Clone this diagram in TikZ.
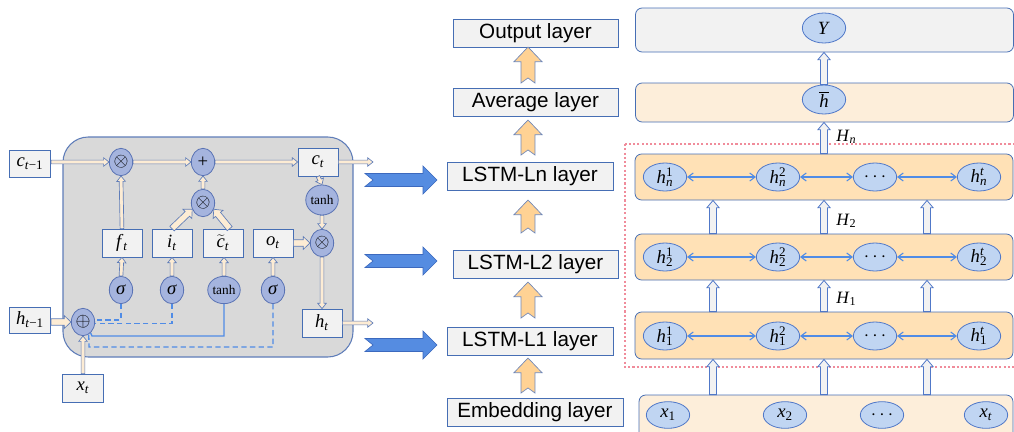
\documentclass[tikz,border=0pt]{standalone}
\usepackage{fontspec}
\setmainfont{Liberation Serif}
\newfontfamily\arialf{Liberation Sans}
\usetikzlibrary{calc,shapes.geometric,arrows.meta}

\newcommand\iv[1]{\textit{#1}}
\newcommand\isub[2]{\textit{#1}\textsubscript{#2}}
\newcommand\isubsup[3]{\textit{#1}\rlap{\textsuperscript{#3}}\textsubscript{#2}}

\definecolor{cellgray}{RGB}{217,217,217}
\definecolor{cellline}{RGB}{95,125,185}
\definecolor{boxfill}{RGB}{242,242,242}
\definecolor{boxline}{RGB}{70,110,180}
\definecolor{gatefill}{RGB}{165,180,222}
\definecolor{gateline}{RGB}{90,115,180}
\definecolor{cream}{RGB}{253,236,212}
\definecolor{sigline}{RGB}{80,140,230}
\definecolor{bigblue}{RGB}{85,140,225}
\definecolor{bigblueline}{RGB}{60,105,190}
\definecolor{orangefill}{RGB}{255,210,148}
\definecolor{orangeline}{RGB}{110,135,185}
\definecolor{ellfill}{RGB}{192,213,242}
\definecolor{ellline}{RGB}{80,120,200}
\definecolor{rowfill}{RGB}{255,225,182}
\definecolor{lightrow}{RGB}{253,238,218}
\definecolor{pinkdot}{RGB}{240,140,155}

\tikzset{
  bsw/.store in=\bSW, bhw/.store in=\bHW, bhl/.store in=\bHL, bnd/.store in=\bND,
  bsw=1.5pt, bhw=3pt, bhl=4pt, bnd=0pt,
  blockarrow/.style={to path={let \p1=(\tikztostart), \p2=(\tikztotarget),
      \p3=($(\p2)!\bHL!(\p1)$) in
      ($(\p1)!\bSW!90:(\p2)$) -- ($(\p3)!\bSW!90:(\p2)$) -- ($(\p3)!\bHW!90:(\p2)$)
      -- (\p2) -- ($(\p3)!\bHW!-90:(\p2)$) -- ($(\p3)!\bSW!-90:(\p2)$)
      -- ($(\p1)!\bSW!-90:(\p2)$) -- ($(\p1)!\bND!(\p2)$) -- cycle}},
}

\begin{document}
\begin{tikzpicture}[x=0.75pt,y=-0.75pt,
  cbox/.style={draw=boxline, fill=boxfill, line width=0.6pt, minimum width=30pt,
    minimum height=21pt, inner sep=0pt, font=\fontsize{14}{16}\selectfont},
  gate/.style={ellipse, draw=gateline, fill=gatefill, line width=0.6pt,
    minimum width=17.5pt, minimum height=20.5pt, inner sep=0pt, font=\fontsize{14}{16}\selectfont},
  thinarr/.style={blockarrow, bsw=1.4pt, bhw=3.2pt, bhl=4pt, bnd=0pt,
    draw=cellline, fill=cream, line width=0.5pt},
  thickarr/.style={blockarrow, bsw=2.4pt, bhw=4.8pt, bhl=5pt, bnd=0pt,
    draw=cellline, fill=cream, line width=0.5pt},
  sigpath/.style={draw=sigline, line width=1pt},
  dsh/.style={dash pattern=on 4pt off 2.5pt},
  bigarr/.style={blockarrow, bsw=4.9pt, bhw=10.5pt, bhl=10.5pt, bnd=6pt,
    fill=bigblue, draw=bigblueline, line width=0.5pt},
  orarr/.style={blockarrow, bsw=5.2pt, bhw=10.5pt, bhl=11pt, bnd=3.8pt,
    fill=orangefill, draw=orangeline, line width=0.5pt},
  layer/.style={draw=boxline, fill=boxfill, line width=0.6pt, minimum height=21pt,
    inner sep=0pt, font=\arialf\fontsize{15.5}{17}\selectfont},
  rowbox/.style={draw=boxline, rounded corners=5pt, line width=0.6pt,
    minimum width=283.5pt, inner sep=0pt},
  rell/.style={ellipse, draw=ellline, fill=ellfill, line width=0.6pt,
    minimum width=32.5pt, minimum height=21pt, inner sep=0pt, font=\fontsize{14}{16}\selectfont},
  bid/.style={draw=sigline, line width=0.8pt, <->, >={Straight Barb[length=4pt,width=6pt]}},
  uparr/.style={blockarrow, bsw=2.6pt, bhw=4.6pt, bhl=5.5pt, bnd=0pt,
    fill=boxfill, draw=ellline, line width=0.6pt},
  hlab/.style={font=\fontsize{13}{15}\selectfont, anchor=west, inner sep=0pt},
]
\clip (0,0) rectangle (1014,432);

%% ---------------- LSTM cell ----------------
\draw[fill=cellgray, draw=cellline, line width=0.8pt, rounded corners=19pt] (63,137) rectangle (353,357);

\node[cbox, minimum width=31pt, minimum height=20pt] (cprev) at (30,164) {\isub{c}{\textit{t}−1}};
\node[gate] (mulf) at (121,162) {$\otimes$};
\node[gate] (plus) at (203,162) {+};
\node[cbox] (ct) at (318,162) {\isub{c}{\textit{t}}};
\node[gate] (muli) at (203,203) {$\otimes$};
\node[cbox] (ft) at (122,243) {\isub{f}{\textit{t}}};
\node[cbox] (it) at (172,243) {\isub{i}{\textit{t}}};
\node[cbox] (ctil) at (223,243) {$\widetilde{\mbox{\textit{c}}}$\textsubscript{\textit{t}}};
\node[cbox] (ot) at (273,243) {\isub{o}{\textit{t}}};
\node[gate] (sgf) at (121,290) {\iv{σ}};
\node[gate] (sgi) at (172,290) {\iv{σ}};
\node[gate, font=\fontsize{10}{11}\selectfont] (thc) at (224,290) {tanh};
\node[gate] (sgo) at (273,290) {\iv{σ}};
\node[gate, minimum width=16.5pt, minimum height=22.5pt, font=\fontsize{10}{11}\selectfont] (tht) at (322,200) {tanh};
\node[gate] (mulo) at (322,243) {$\otimes$};
\node[cbox] (ht) at (322,323) {\isub{h}{\textit{t}}};
\node[gate] (cat) at (83,322) {$\oplus$};
\node[cbox, minimum width=31pt, minimum height=19.5pt] (hprev) at (30,320) {\isub{h}{\textit{t}−1}};
\node[cbox, minimum width=31pt] (xt) at (83,388) {\isub{x}{\textit{t}}};

\coordinate (cout) at (373,162);
\coordinate (hout) at (373,323);
\coordinate (j1) at (92,336);
\coordinate (j2) at (89,347);

\draw[sigpath, dsh] (sgf.south) |- (cat.10);
\draw[sigpath, dsh] (sgi.south) |- (cat.-8);
\draw[sigpath] (thc.south) |- (j1) -- (cat.-55);
\draw[sigpath, dsh] (sgo.south) |- (j2) -- (cat.-65);

\draw[thinarr] (cprev.east |- mulf) to (mulf.west);
\draw[thinarr] (mulf.east) to (plus.west);
\draw[thinarr] (plus.east) to (ct.west);
\draw[thinarr] (ct.east) to (cout);
\draw[thinarr] (ft.north) to (mulf.south);
\draw[thinarr] (muli.north) to (plus.south);
\draw[thinarr] (sgf.north) to (ft.south);
\draw[thinarr] (sgi.north) to (it.south);
\draw[thinarr] (thc.north) to (ctil.south -| thc);
\draw[thinarr] (sgo.north) to (ot.south);
\draw[thinarr] (ct.south) to (tht.north);
\draw[thinarr] (tht.south) to (mulo.north);
\draw[thinarr] (mulo.south) to (ht.north);
\draw[thinarr] (ht.east) to (hout);
\draw[thinarr] (xt.north) to (cat.south);
\draw[thickarr] (it.north) to (muli.210);
\draw[thickarr] (ctil.65) to (muli.330);
\draw[thickarr] (ot.east) to (mulo.west);
\draw[thickarr] (hprev.east |- cat) to (cat.west);

%% ---------------- big blue arrows ----------------
\coordinate (b1s) at (365,180); \coordinate (b1e) at (437,180);
\coordinate (b2s) at (365,261); \coordinate (b2e) at (437,261);
\coordinate (b3s) at (365,345); \coordinate (b3e) at (437,345);
\draw[bigarr] (b1s) to (b1e);
\draw[bigarr] (b2s) to (b2e);
\draw[bigarr] (b3s) to (b3e);

%% ---------------- layer column ----------------
\node[layer, minimum width=123.75pt] (outl) at (535.5,33) {Output layer};
\node[layer, minimum width=123.75pt] (avgl) at (535.5,102.5) {Average layer};
\node[layer, minimum width=124.5pt] (lnl) at (530,176.5) {LSTM-Ln layer};
\node[layer, minimum width=123.75pt] (l2l) at (535.5,264) {LSTM-L2 layer};
\node[layer, minimum width=124.5pt] (l1l) at (530,341) {LSTM-L1 layer};
\node[layer, minimum width=132pt] (embl) at (535,412) {Embedding layer};

\coordinate (o1s) at (528,83);  \coordinate (o1e) at (528,47);
\coordinate (o2s) at (528,155); \coordinate (o2e) at (528,120);
\coordinate (o3s) at (528,233); \coordinate (o3e) at (528,200);
\coordinate (o4s) at (528,318); \coordinate (o4e) at (528,282);
\coordinate (o5s) at (528,393); \coordinate (o5e) at (528,358);
\draw[orarr] (o1s) to (o1e);
\draw[orarr] (o2s) to (o2e);
\draw[orarr] (o3s) to (o3e);
\draw[orarr] (o4s) to (o4e);
\draw[orarr] (o5s) to (o5e);

%% ---------------- right panel ----------------
\draw[pinkdot, line width=1.6pt, dash pattern=on 1.6pt off 1.6pt] (625,144) rectangle (1030,367);

\node[rowbox, fill=boxfill, minimum height=33pt] (topr) at (824.5,30) {};
\node[rowbox, fill=lightrow, minimum height=29.25pt] (hbr) at (824.5,102.5) {};
\node[rowbox, fill=rowfill, minimum height=34.5pt] (rown) at (824,177) {};
\node[rowbox, fill=rowfill, minimum height=34.5pt] (row2) at (824,257) {};
\node[rowbox, fill=rowfill, minimum height=35.25pt] (row1) at (824,335.5) {};
\node[rowbox, fill=lightrow, minimum width=280.5pt, minimum height=37.5pt] (embr) at (826,420) {};

\node[rell, minimum height=22.5pt] (Y) at (824,28) {\iv{Y}};
\node[rell, minimum height=21.75pt] (hbar) at (824,99.5) {$\overline{\mbox{\iv{h}}}$};

\node[rell] (hn1) at (665,177) {\isubsup{h}{\textit{n}}{1}};
\node[rell] (hn2) at (778,177) {\isubsup{h}{\textit{n}}{2}};
\node[rell] (hn3) at (875,177) {$\cdots$};
\node[rell] (hn4) at (979,177) {\isubsup{h}{\textit{n}}{\textit{t}}};
\node[rell] (h21) at (665,257) {\isubsup{h}{2}{1}};
\node[rell] (h22) at (778,257) {\isubsup{h}{2}{2}};
\node[rell] (h23) at (875,257) {$\cdots$};
\node[rell] (h24) at (979,257) {\isubsup{h}{2}{\textit{t}}};
\node[rell] (h11) at (665,336) {\isubsup{h}{1}{1}};
\node[rell] (h12) at (778,336) {\isubsup{h}{1}{2}};
\node[rell] (h13) at (875,336) {$\cdots$};
\node[rell] (h14) at (979,336) {\isubsup{h}{1}{\textit{t}}};
\node[rell, minimum height=20pt] (x1) at (668,415) {\isub{x}{1}};
\node[rell, minimum height=20pt] (x2) at (785,415) {\isub{x}{2}};
\node[rell, minimum height=20pt] (x3) at (882,415) {$\cdots$};
\node[rell, minimum height=20pt] (x4) at (986,415) {\isub{x}{\textit{t}}};

\foreach \r in {hn,h2,h1}{
  \draw[bid] (\r1.east) -- (\r2.west);
  \draw[bid] (\r2.east) -- (\r3.west);
  \draw[bid] (\r3.east) -- (\r4.west);
}

\coordinate (c1) at (713,0);
\coordinate (c2) at (824,0);
\coordinate (c3) at (927,0);
\foreach \c in {c1,c2,c3}{
  \draw[uparr] (embr.north -| \c) to (row1.south -| \c);
  \draw[uparr] (row1.north -| \c) to (row2.south -| \c);
  \draw[uparr] (row2.north -| \c) to (rown.south -| \c);
}
\draw[uparr] (rown.north -| c2) to (hbr.south -| c2);
\draw[uparr] (hbar.north) to (hbar.north |- topr.south);

\node[hlab] (Hn) at (836,137) {\isub{H}{\textit{n}}};
\node[hlab] (H2) at (836,221) {\isub{H}{2}};
\node[hlab] (H1) at (836,299) {\isub{H}{1}};
\end{tikzpicture}
\end{document}
